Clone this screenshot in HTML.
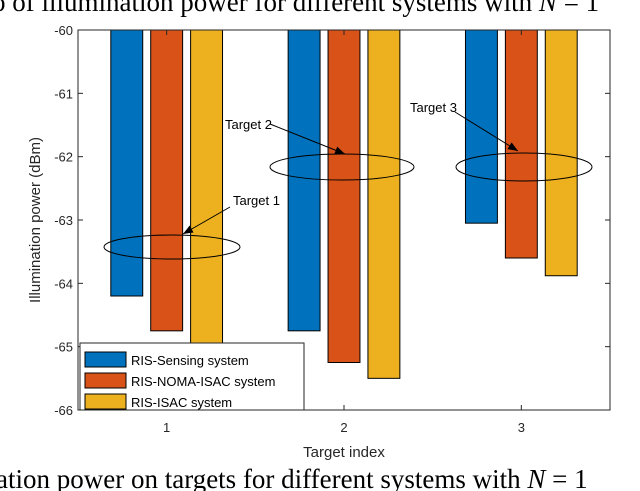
<!DOCTYPE html>
<html><head><meta charset="utf-8"><style>
body{margin:0;width:640px;height:491px;background:#fff;overflow:hidden;position:relative}
svg{position:absolute;left:0;top:0}
text{font-family:"Liberation Sans",sans-serif}
.serif{font-family:"Liberation Serif",serif}
</style></head><body>
<svg id="c" width="640" height="491">
<text class="serif" x="-8" y="11" font-size="27">o of illumination power for different systems with <tspan font-style="italic">N</tspan> = 1</text>
<text class="serif" x="-4" y="488" font-size="27">ation power on targets for different systems with <tspan font-style="italic">N</tspan> = 1</text>
<g id="plot"></g>
</svg>
<script>
const categories=[1,2,3];
const sensing=[-64.2,-64.75,-63.05];
const noma=[-64.75,-65.25,-63.6];
const isac=[-64.95,-65.5,-63.88];
const yTicks=[-60,-61,-62,-63,-64,-65,-66];
const seriesNames=["RIS-Sensing system","RIS-NOMA-ISAC system","RIS-ISAC system"];
const colors=["#0072BD","#D95319","#EDB120"];
const L=78,R=610,T=30,B=410;
const x=v=>L+(v-0.5)/3*(R-L);
const y=v=>T+(-60-v)/6*(B-T);
const g=document.getElementById('plot');
const NS='http://www.w3.org/2000/svg';
function mk(tag,at,p){const e=document.createElementNS(NS,tag);for(const k in at)e.setAttribute(k,at[k]);(p||g).appendChild(e);return e;}
const series=[sensing,noma,isac];
const bw=0.18,off=0.225;
series.forEach((s,si)=>s.forEach((v,i)=>{
 const xc=categories[i]+(si-1)*off;
 const r=mk('rect',{x:x(xc-bw/2),y:y(-60),width:x(xc+bw/2)-x(xc-bw/2),height:y(v)-y(-60),fill:colors[si],stroke:'#000','stroke-width':1});
 
 
}));
// axes box
const box=mk('rect',{x:L,y:T,width:R-L,height:B-T,fill:'none',stroke:'#262626','stroke-width':1});


yTicks.forEach(t=>{
 mk('line',{x1:L,x2:L+5,y1:y(t),y2:y(t),stroke:'#262626'});
 mk('line',{x1:R,x2:R-5,y1:y(t),y2:y(t),stroke:'#262626'});
 const tx=mk('text',{x:L-5,y:y(t)+5,'text-anchor':'end','font-size':13,fill:'#262626'});
 tx.textContent=t;
 
 
});
categories.forEach(c=>{
 mk('line',{x1:x(c),x2:x(c),y1:B,y2:B-5,stroke:'#262626'});
 mk('line',{x1:x(c),x2:x(c),y1:T,y2:T+5,stroke:'#262626'});
 const tx=mk('text',{x:x(c),y:B+22,'text-anchor':'middle','font-size':13,fill:'#262626'});
 tx.textContent=c;
 
 
});
const xl=mk('text',{x:x(2),y:B+47,'text-anchor':'middle','font-size':15,fill:'#262626'});
xl.textContent='Target index';


const yl=mk('text',{x:0,y:0,'text-anchor':'middle','font-size':15,fill:'#262626',transform:'translate(40,220) rotate(-90)'});
yl.textContent='Illumination power (dBm)';


// annotations
const defs=mk('defs',{});
const m=mk('marker',{id:'ah',markerWidth:10,markerHeight:8,refX:10,refY:4,orient:'auto',markerUnits:'userSpaceOnUse'},defs);
mk('path',{d:'M0,0 L10,4 L0,8 Z',fill:'#000'},m);
const ann=[{cx:172,cy:247,rx:68,ry:12,t:'Target 1',tx:233,ty:205,x1:230,y1:207,x2:183,y2:234},
{cx:342,cy:167,rx:72,ry:13,t:'Target 2',tx:225,ty:129,x1:270,y1:124,x2:345,y2:154},
{cx:524,cy:167,rx:68,ry:14,t:'Target 3',tx:410,ty:112,x1:455,y1:112,x2:518,y2:151}];
ann.forEach((a,i)=>{
 const e=mk('ellipse',{cx:a.cx,cy:a.cy,rx:a.rx,ry:a.ry,fill:'none',stroke:'#000','stroke-width':1});
 
 
 const l=mk('line',{x1:a.x1,y1:a.y1,x2:a.x2,y2:a.y2,stroke:'#000','stroke-width':1,'marker-end':'url(#ah)'});
 
 
 const t=mk('text',{x:a.tx,y:a.ty,'font-size':13,fill:'#000'});
 t.textContent=a.t;
 
 
});
// legend
const lg=mk('g',{});


mk('rect',{x:80,y:343,width:224,height:67,fill:'#fff',stroke:'#262626'},lg);
seriesNames.forEach((n,i)=>{
 const yy=352+i*21;
 mk('rect',{x:85,y:yy,width:41,height:15,fill:colors[i],stroke:'#000'},lg);
 const t=mk('text',{x:131,y:yy+13,'font-size':13,fill:'#000'},lg);
 t.textContent=n;
 
 
});
</script>
</body></html>
